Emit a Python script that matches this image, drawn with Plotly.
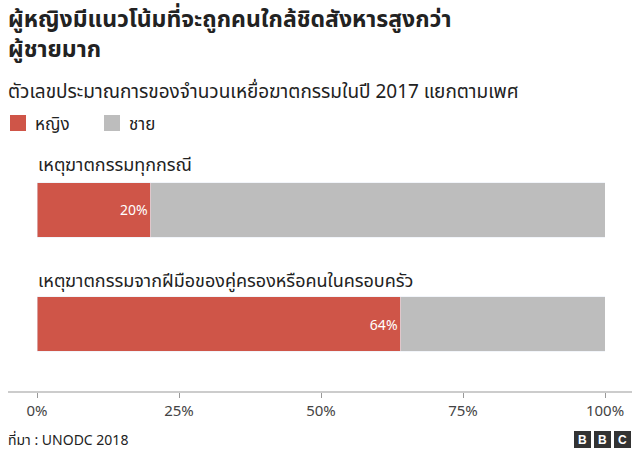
import plotly.graph_objects as go

categories = ["เหตุฆาตกรรมทุกกรณี", "เหตุฆาตกรรมจากฝีมือของคู่ครองหรือคนในครอบครัว"]
female = [20, 64]
male = [80, 36]
ticks = [0, 25, 50, 75, 100]

RED = "#cf5548"
GRAY = "#bdbdbd"
FONT = "Noto Sans, Noto Sans Thai, sans-serif"

W, H = 640, 450
L, R, T, B = 37, 35, 150, 58
pw, ph = W - L - R, H - T - B

def px(x):
    return (x - L) / pw

def py(y):
    return (H - B - y) / ph

ypos = [1, 0]

fig = go.Figure()
fig.add_bar(y=ypos, x=female, orientation="h", marker_color=RED, width=0.48,
            text=[f"{v}%" for v in female], textposition="inside",
            insidetextanchor="end", textfont=dict(color="white", size=14),
            name="หญิง", hoverinfo="skip")
fig.add_bar(y=ypos, x=male, orientation="h", marker_color=GRAY, width=0.48,
            name="ชาย", hoverinfo="skip")

ann = [
    dict(x=px(6), y=py(0), text="<b>ผู้หญิงมีแนวโน้มที่จะถูกคนใกล้ชิดสังหารสูงกว่า<br>ผู้ชายมาก</b>",
         font=dict(size=23, color="#222"), align="left"),
    dict(x=px(6), y=py(76), text="ตัวเลขประมาณการของจำนวนเหยื่อฆาตกรรมในปี 2017 แยกตามเพศ",
         font=dict(size=19, color="#222")),
    dict(x=px(33), y=py(110), text="หญิง", font=dict(size=17, color="#222")),
    dict(x=px(127), y=py(110), text="ชาย", font=dict(size=17, color="#222")),
    dict(x=px(36), y=py(150), text=categories[0], font=dict(size=18, color="#222")),
    dict(x=px(36), y=py(266), text=categories[1], font=dict(size=18, color="#222")),
    dict(x=px(6), y=py(428), text="ที่มา : UNODC 2018", font=dict(size=14, color="#222")),
]
for a in ann:
    a.update(xref="paper", yref="paper", xanchor="left", yanchor="top", showarrow=False)

shapes = [
    dict(type="rect", xref="paper", yref="paper", x0=px(10), x1=px(26), y0=py(131), y1=py(115),
         fillcolor=RED, line_width=0),
    dict(type="rect", xref="paper", yref="paper", x0=px(104), x1=px(120), y0=py(131), y1=py(115),
         fillcolor=GRAY, line_width=0),
]
for i, letter in enumerate("BBC"):
    x0 = 574 + i * 20
    shapes.append(dict(type="rect", xref="paper", yref="paper", x0=px(x0), x1=px(x0 + 17),
                       y0=py(448), y1=py(431), fillcolor="#333", line_width=0))
    ann.append(dict(x=px(x0 + 8.5), y=py(439.5), xref="paper", yref="paper", text=f"<b>{letter}</b>",
                    xanchor="center", yanchor="middle", showarrow=False,
                    font=dict(size=12, color="white", family="Liberation Sans")))

fig.update_layout(
    width=W, height=H, barmode="stack", showlegend=False,
    margin=dict(l=L, r=R, t=T, b=B), plot_bgcolor="white", paper_bgcolor="white",
    font=dict(family=FONT, color="#222"),
    annotations=ann, shapes=shapes,
    xaxis=dict(range=[0, 100], tickvals=ticks, ticktext=[f"{t}%" for t in ticks],
               showgrid=False, zeroline=False, showline=False, ticks="outside",
               ticklen=5, tickcolor="#999", tickfont=dict(size=15, color="#444"),
               fixedrange=True),
    yaxis=dict(range=[-0.596, 1.526], visible=False, fixedrange=True),
)
fig.add_shape(type="line", xref="paper", yref="paper", x0=px(8), x1=px(632), y0=0, y1=0,
              line=dict(color="#999", width=1))

fig.write_html("out.html", config={"displayModeBar": False},
               post_script="document.body.style.margin='0';")
